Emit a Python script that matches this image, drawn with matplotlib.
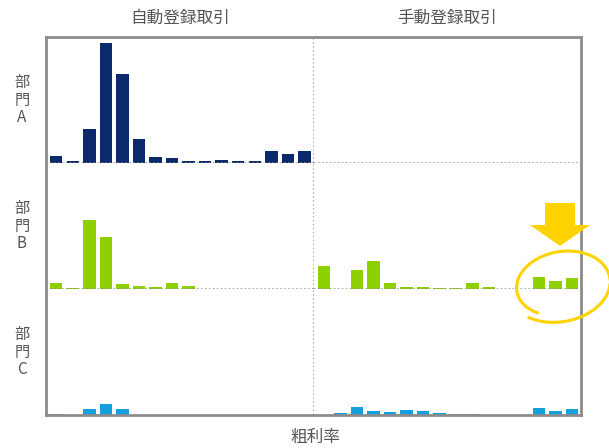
import matplotlib
matplotlib.use("Agg")
import matplotlib.pyplot as plt
from matplotlib.patches import FancyArrow
import numpy as np

plt.rcParams['font.family'] = ['Noto Sans CJK JP', 'DejaVu Sans']

# 粗利率の階級（16区分）ごとの件数
bins = np.arange(16)
columns = ['自動登録取引', '手動登録取引']
rows = ['部\n門\nA', '部\n門\nB', '部\n門\nC']

auto_a = [7, 2.3, 34, 120, 89, 24, 6, 5.3, 2, 2, 3, 2.3, 2.3, 12, 9.3, 12]
manual_a = [0] * 16
auto_b = [6, 1.3, 68.7, 52, 5.3, 3, 1.7, 6, 3.3, 0.4, 0.4, 0.4, 0.4, 0.2, 0, 0]
manual_b = [22.7, 0.4, 19.3, 28.3, 6, 2.3, 1.7, 1, 1, 6.3, 2, 0.4, 0, 12, 8.3, 10.7]
auto_c = [1, 0, 6, 10.7, 6, 0.3, 0.3, 0.3, 0.3, 0.3, 0.3, 0.3, 0.3, 0.3, 0.3, 0.3]
manual_c = [0, 1.7, 7.7, 3.7, 2.7, 5, 4.3, 1.7, 0.7, 0.7, 0.3, 0, 0, 6.7, 4.3, 6]

data = [[auto_a, manual_a], [auto_b, manual_b], [auto_c, manual_c]]
colors = ['#0a2a6c', '#8fd000', '#14a0dc']

W, H = 609, 448
fig = plt.figure(figsize=(W / 100, H / 100), dpi=100)
L, R, T, B = 46, 581, 37, 415
gs = fig.add_gridspec(3, 2, left=L / W, right=R / W, top=1 - T / H, bottom=1 - B / H,
                      wspace=0, hspace=0)

dot = dict(color='#8a8a8a', linestyle=(0, (1, 1.6)), linewidth=1.1)

for r in range(3):
    for c in range(2):
        ax = fig.add_subplot(gs[r, c])
        ax.bar(bins, data[r][c], width=0.75, color=colors[r], zorder=2)
        ax.set_xlim(-0.62, 15.55)
        ax.set_ylim(0, 126)
        ax.set_xticks([])
        ax.set_yticks([])
        for s in ax.spines.values():
            s.set_visible(False)
        if r < 2:
            ax.axhline(0, zorder=3, **dot)
        if c == 0:
            ax.axvline(15.55, zorder=3, **dot)
            pos = ax.get_position()
            fig.text(22 / W, (pos.y0 + pos.y1) / 2, rows[r], ha='center', va='center',
                     fontsize=11, color='#555555', linespacing=1.05)
        if r == 0:
            pos = ax.get_position()
            fig.text((pos.x0 + pos.x1) / 2, 1 - 18 / H, columns[c], ha='center',
                     va='center', fontsize=12, color='#555555')

# 外枠
frame = fig.add_axes([L / W, 1 - B / H, (R - L) / W, (B - T) / H])
frame.patch.set_alpha(0)
frame.set_xticks([])
frame.set_yticks([])
for s in frame.spines.values():
    s.set_color('#8c8c8c')
    s.set_linewidth(2)

fig.text(0.517, 1 - 437 / H, '粗利率', ha='center', va='center', fontsize=12, color='#555555')

# 注目箇所の矢印と囲み（ピクセル座標）
over = fig.add_axes([0, 0, 1, 1])
over.set_xlim(0, W)
over.set_ylim(H, 0)
over.axis('off')
over.add_patch(FancyArrow(560, 203, 0, 43, width=30, head_width=60, head_length=21,
                          length_includes_head=True, color='#ffd200', lw=0))
t = np.radians(np.linspace(130, 495, 300))
k = np.linspace(0.9, 1.1, t.size)
ex = 48 * k * np.cos(t)
ey = 34 * k * np.sin(t)
rot = np.radians(-10)
over.plot(561 + ex * np.cos(rot) - ey * np.sin(rot),
          285 + ex * np.sin(rot) + ey * np.cos(rot),
          color='#ffd200', lw=2.2, solid_capstyle='round')

fig.savefig('out.png', dpi=100)
